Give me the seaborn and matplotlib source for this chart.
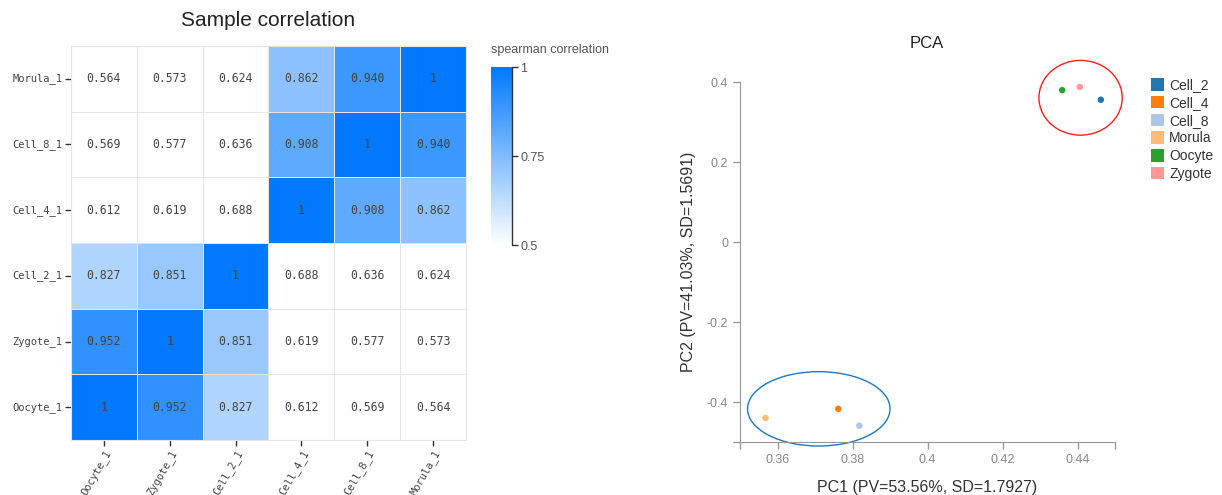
import numpy as np
import pandas as pd
import matplotlib
matplotlib.use('Agg')
import matplotlib.pyplot as plt
import seaborn as sns
from matplotlib.colors import LinearSegmentedColormap, Normalize
from matplotlib.cm import ScalarMappable
from matplotlib.patches import Ellipse, Patch

# ---------------- data ----------------
samples = ['Oocyte_1', 'Zygote_1', 'Cell_2_1', 'Cell_4_1', 'Cell_8_1', 'Morula_1']
corr = [
    [1.000, 0.952, 0.827, 0.612, 0.569, 0.564],
    [0.952, 1.000, 0.851, 0.619, 0.577, 0.573],
    [0.827, 0.851, 1.000, 0.688, 0.636, 0.624],
    [0.612, 0.619, 0.688, 1.000, 0.908, 0.862],
    [0.569, 0.577, 0.636, 0.908, 1.000, 0.940],
    [0.564, 0.573, 0.624, 0.862, 0.940, 1.000],
]
cbar_ticks = [0.5, 0.75, 1]

groups = ['Cell_2', 'Cell_4', 'Cell_8', 'Morula', 'Oocyte', 'Zygote']
pc1 = [0.4462, 0.3762, 0.3818, 0.3568, 0.4359, 0.4406]
pc2 = [0.356, -0.417, -0.459, -0.440, 0.380, 0.388]
group_colors = ['#1f77b4', '#ff7f0e', '#aec7e8', '#ffbb78', '#2ca02c', '#ff9896']
pc_xticks = [0.36, 0.38, 0.4, 0.42, 0.44]
pc_yticks = [-0.4, -0.2, 0, 0.2, 0.4]
# cluster outlines: (center x, center y, width, height, colour)
outlines = [(0.4408, 0.361, 0.0222, 0.187, '#ff2020'),
            (0.3710, -0.417, 0.0380, 0.186, '#1f77c4')]

# ---------------- style ----------------
sns.set_style('white')
plt.rcParams['font.family'] = ['Liberation Sans', 'DejaVu Sans']

fig = plt.figure(figsize=(12.22, 4.95), dpi=100)

# ---------------- heatmap ----------------
ax1 = fig.add_axes([0.0581, 0.1111, 0.3232, 0.796])
cax = fig.add_axes([0.4018, 0.505, 0.0172, 0.3596])

df = pd.DataFrame(corr, index=samples, columns=samples).iloc[::-1]
labels = df.map(lambda v: '1' if v == 1 else '%.3f' % v)
blue = '#0078ff'
cell_cmap = LinearSegmentedColormap.from_list(
    'cells', [(0, 'white'), (0.5, 'white'), (1, blue)])
sns.heatmap(df, ax=ax1, cmap=cell_cmap, vmin=0.5, vmax=1, cbar=False,
            annot=labels, fmt='', linewidths=0.6, linecolor='#e6e6e6',
            annot_kws={'fontsize': 8.3, 'color': '#444444',
                       'family': 'DejaVu Sans Mono'})
for s in ax1.spines.values():
    s.set_visible(True)
    s.set_color('#e6e6e6')
    s.set_linewidth(0.8)
ax1.tick_params(axis='both', length=4, width=1, color='#333333',
                labelsize=7.5, labelcolor='#444444', left=True, bottom=True,
                pad=2)
for t in ax1.get_yticklabels():
    t.set_family('DejaVu Sans Mono')
    t.set_rotation(0)
for t in ax1.get_xticklabels():
    t.set_family('DejaVu Sans Mono')
    t.set_rotation(60)
    t.set_ha('right')
    t.set_rotation_mode('anchor')
ax1.set_xlabel('')
ax1.set_ylabel('')
fig.text(0.2197, 0.958, 'Sample correlation', ha='center', va='center',
         fontsize=15, color='#222222')

# colour bar
bar_cmap = LinearSegmentedColormap.from_list('bar', ['white', blue])
cb = fig.colorbar(ScalarMappable(Normalize(0.5, 1), bar_cmap), cax=cax,
                  ticks=cbar_ticks)
cb.outline.set_visible(False)
cb.ax.plot([1, 1], [0, 1], color='#333333', lw=1,
           transform=cb.ax.transAxes, clip_on=False)
cb.ax.tick_params(length=4, width=1, color='#333333', labelsize=9,
                  labelcolor='#555555', pad=2)
cb.ax.set_yticklabels([f'{v:g}' for v in cbar_ticks])
fig.text(0.4018, 0.899, 'spearman correlation', ha='left', va='center',
         fontsize=9, color='#555555')

# ---------------- PCA ----------------
ax2 = fig.add_axes([0.6056, 0.107, 0.3069, 0.727])
pca = pd.DataFrame({'PC1': pc1, 'PC2': pc2, 'group': groups})
palette = dict(zip(groups, group_colors))
sns.scatterplot(data=pca, x='PC1', y='PC2', hue='group', palette=palette,
                s=22, linewidth=0, legend=False, ax=ax2)
for cx, cy, w, h, c in outlines:
    ax2.add_patch(Ellipse((cx, cy), w, h, fill=False, edgecolor=c, lw=1,
                          clip_on=False))
ax2.set_xlim(0.35, 0.45)
ax2.set_ylim(-0.5, 0.4)
ax2.set_xticks(pc_xticks)
ax2.set_yticks(pc_yticks)
ax2.set_xticklabels([f'{v:g}' for v in pc_xticks])
ax2.set_yticklabels([f'{v:g}' for v in pc_yticks])
ax2.set_xticks([0.35, 0.45], minor=True)
ax2.set_yticks([-0.5], minor=True)
for side in ['top', 'right']:
    ax2.spines[side].set_visible(False)
for side in ['left', 'bottom']:
    ax2.spines[side].set_color('#999999')
ax2.tick_params(axis='both', which='both', direction='out', length=5,
                width=1, color='#999999', labelsize=9, labelcolor='#888888',
                left=True, bottom=True)
ax2.set_xlabel('PC1 (PV=53.56%, SD=1.7927)', fontsize=11.5, color='#333333',
               labelpad=10)
ax2.set_ylabel('PC2 (PV=41.03%, SD=1.5691)', fontsize=11.5, color='#333333',
               labelpad=8)
fig.text(0.7586, 0.913, 'PCA', ha='center', va='center', fontsize=12,
         color='#222222')

handles = [Patch(facecolor=c, edgecolor='none') for c in group_colors]
fig.legend(handles, groups, loc='upper left', bbox_to_anchor=(0.9415, 0.842),
           frameon=False, fontsize=10, handlelength=1.0, handleheight=1.0,
           handletextpad=0.35, labelspacing=0.27, borderpad=0,
           borderaxespad=0, labelcolor='#333333')

fig.savefig('out.png', dpi=100)
